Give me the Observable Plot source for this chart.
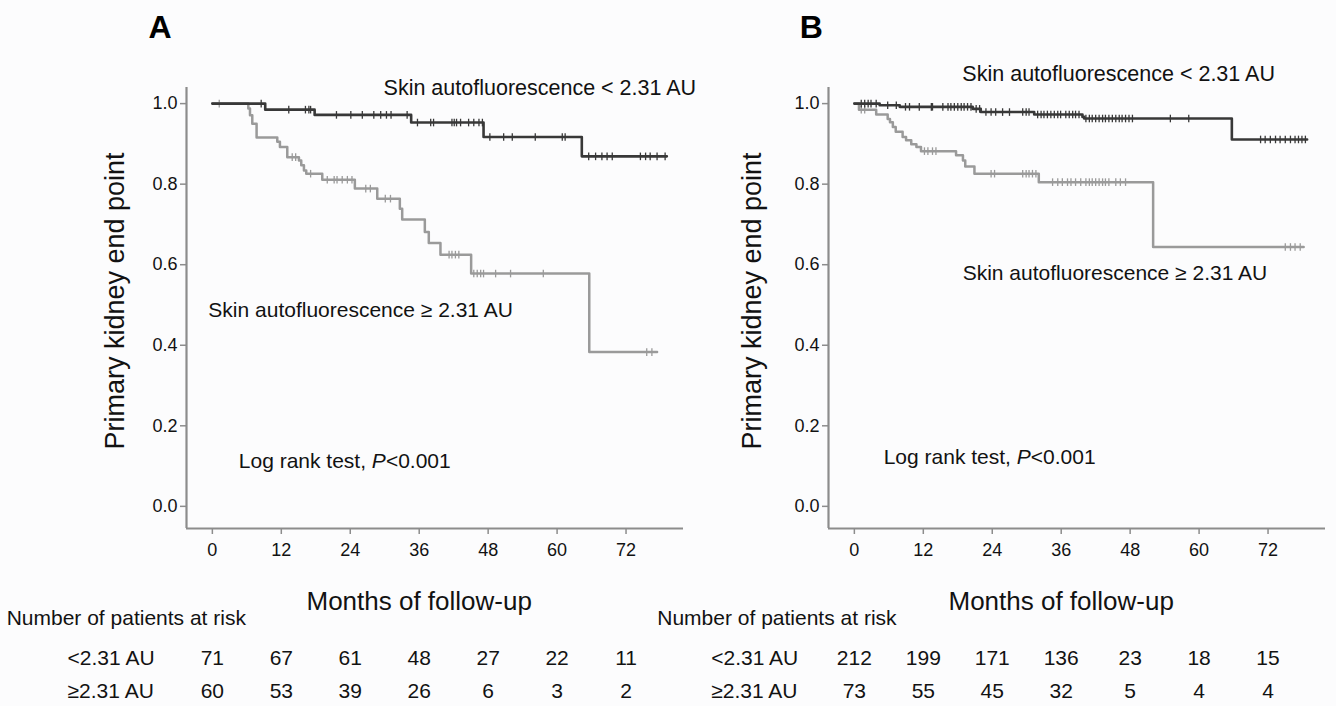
<!DOCTYPE html>
<html><head><meta charset="utf-8">
<script src="https://cdn.jsdelivr.net/npm/d3@7"></script>
<script src="https://cdn.jsdelivr.net/npm/@observablehq/plot@0.6"></script>
<style>
html,body{margin:0;padding:0;background:#fcfcfd;}
#wrap{position:relative;width:1336px;height:706px;overflow:hidden;background:#fcfcfd;}
#wrap svg{position:absolute;top:0;}
</style></head><body><div id="wrap"></div>
<script>
// ---------- data ----------
const xTicks = [0, 12, 24, 36, 48, 60, 72];
const yTicks = [0, 0.2, 0.4, 0.6, 0.8, 1.0];
const riskTimes = [0, 12, 24, 36, 48, 60, 72];
const groupLabels = ["<2.31 AU", "≥2.31 AU"];
const curveLabels = ["Skin autofluorescence < 2.31 AU", "Skin autofluorescence ≥ 2.31 AU"];
const logRank = "Log rank test, P<0.001";
const yTitle = "Primary kidney end point";
const xTitle = "Months of follow-up";
const riskTitle = "Number of patients at risk";

// Panel A
const aRiskLow = [71, 67, 61, 48, 27, 22, 11];
const aRiskHigh = [60, 53, 39, 26, 6, 3, 2];
const aLowTimes = [9.2, 17.8, 34.6, 47.2, 64.3];
const aLowSurv = [0.985, 0.972, 0.953, 0.917, 0.869];
const aLowEnd = 79.1;
const aLowCens = [8.5, 13.3, 16.2, 16.8, 17.1, 21.6, 24.1, 26.1, 28.1, 29.3, 30.3, 31.1, 33.9, 35.7, 38.0, 38.5, 41.7, 42.1, 42.5, 43.2, 44.6, 45.5, 46.4, 47.0, 48.3, 50.7, 52.2, 56.2, 60.9, 61.4, 65.5, 66.7, 67.8, 68.7, 69.6, 74.5, 75.4, 76.2, 77.4, 78.8];
const aHighTimes = [6.26, 6.55, 6.95, 7.7, 11.3, 11.76, 13.04, 15.07, 15.47, 15.94, 16.34, 19.13, 24.8, 28.7, 32.63, 33.04, 36.98, 37.67, 39.7, 45.04, 65.6];
const aHighSurv = [0.988, 0.971, 0.950, 0.916, 0.905, 0.892, 0.867, 0.859, 0.847, 0.834, 0.826, 0.811, 0.789, 0.764, 0.739, 0.712, 0.681, 0.654, 0.625, 0.578, 0.383];
const aHighEnd = 77.4;
const aHighCens = [1.2, 13.9, 14.5, 17.1, 20.0, 21.2, 21.7, 22.6, 23.5, 24.3, 26.7, 27.5, 30.1, 31.0, 41.2, 41.7, 42.3, 42.9, 45.5, 46.1, 46.7, 47.2, 49.3, 51.9, 57.6, 75.6, 76.5];

// Panel B
const bRiskLow = [212, 199, 171, 136, 23, 18, 15];
const bRiskHigh = [73, 55, 45, 32, 5, 4, 4];
const bLowTimes = [4.4, 7.9, 20.6, 22.0, 31.3, 39.7, 40.0, 65.7];
const bLowSurv = [0.996, 0.992, 0.987, 0.979, 0.973, 0.967, 0.963, 0.911];
const bLowEnd = 78.8;
const bLowCens = [1.2, 1.8, 2.4, 2.9, 3.8, 5.8, 7.3, 8.9, 9.6, 11.3, 13.4, 13.6, 15.4, 16.3, 16.8, 17.4, 18.0, 18.6, 19.1, 19.7, 20.3, 21.2, 21.8, 22.9, 23.8, 24.6, 25.8, 27.0, 29.3, 29.9, 30.4, 31.9, 32.5, 33.0, 33.6, 34.2, 34.8, 35.4, 35.9, 36.8, 37.4, 38.0, 38.5, 39.1, 40.3, 40.9, 41.4, 42.0, 42.6, 43.2, 43.7, 44.3, 44.9, 45.5, 46.1, 46.6, 47.2, 47.8, 48.4, 55.0, 58.2, 70.7, 71.5, 72.4, 73.3, 74.1, 75.0, 75.9, 76.7, 77.3, 77.9, 78.5];
const bHighTimes = [0.8, 3.8, 5.8, 6.2, 6.7, 7.2, 8.4, 9.0, 9.9, 10.8, 11.6, 17.7, 18.9, 19.3, 20.9, 32.1, 52.0];
const bHighSurv = [0.985, 0.973, 0.962, 0.954, 0.942, 0.930, 0.917, 0.909, 0.899, 0.892, 0.882, 0.872, 0.859, 0.844, 0.826, 0.805, 0.644];
const bHighEnd = 78.2;
const bHighCens = [1.2, 1.8, 12.2, 12.8, 13.6, 14.2, 23.8, 24.4, 29.3, 29.9, 30.4, 31.0, 31.6, 34.5, 35.4, 36.2, 37.1, 37.7, 38.5, 39.4, 40.3, 40.9, 41.4, 42.0, 42.6, 43.2, 43.7, 44.3, 45.5, 46.3, 47.2, 75.0, 75.9, 76.7, 77.6];

// ---------- styling ----------
const FONT = '"Liberation Sans", Arial, Helvetica, sans-serif';
const DARK = "#383838", GRAY = "#9a9a9a", AXIS = "#8c8c8c", INK = "#121212";
const xDomain = [-4.5, 82], yDomain = [-0.055, 1.04];

function kmPath(times, surv, end) {
  const pts = [{t: 0, s: 1}];
  times.forEach((t, i) => pts.push({t, s: surv[i]}));
  pts.push({t: end, s: surv[surv.length - 1]});
  return pts;
}
function survAt(times, surv, t) {
  let s = 1;
  times.forEach((tt, i) => { if (tt <= t) s = surv[i]; });
  return s;
}
const censorSymbol = {
  draw(context, size) {
    const r = Math.sqrt(size / Math.PI);
    context.moveTo(0, -r);
    context.lineTo(0, r);
  }
};

function panel(cfg) {
  const low = kmPath(cfg.lowTimes, cfg.lowSurv, cfg.lowEnd);
  const high = kmPath(cfg.highTimes, cfg.highSurv, cfg.highEnd);
  const lowC = cfg.lowCens.map(t => ({t, s: survAt(cfg.lowTimes, cfg.lowSurv, t)}));
  const highC = cfg.highCens.map(t => ({t, s: survAt(cfg.highTimes, cfg.highSurv, t)}));
  const txt = {fill: INK, fontSize: 21, lineAnchor: "bottom"};
  const marks = [
    Plot.ruleX([xDomain[0]], {stroke: AXIS, strokeWidth: 2.2}),
    Plot.ruleY([yDomain[0]], {stroke: AXIS, strokeWidth: 2.2}),
    Plot.axisY({ticks: yTicks, tickFormat: d3.format(".1f"), tickSize: 6, tickPadding: 3, stroke: AXIS, strokeWidth: 1.5, fill: INK, fontSize: 18, label: null}),
    Plot.axisX({ticks: xTicks, tickFormat: d => String(d), tickSize: 6, tickPadding: 9, stroke: AXIS, strokeWidth: 1.5, fill: INK, fontSize: 18, label: null}),
    Plot.line(high, {x: "t", y: "s", curve: "step-after", stroke: GRAY, strokeWidth: 2.5}),
    Plot.dot(highC, {x: "t", y: "s", symbol: censorSymbol, r: 3.8, stroke: GRAY, fill: "none", strokeWidth: 1.3}),
    Plot.line(low, {x: "t", y: "s", curve: "step-after", stroke: DARK, strokeWidth: 2.6}),
    Plot.dot(lowC, {x: "t", y: "s", symbol: censorSymbol, r: 3.8, stroke: DARK, fill: "none", strokeWidth: 1.3}),
    // panel letter
    Plot.text([cfg.letter], {x: cfg.letterX, frameAnchor: "top", dy: -50, text: d => d, textAnchor: "start", lineAnchor: "bottom", fontSize: 32, fontWeight: "bold", fill: "#000"}),
    // curve annotations
    Plot.text([curveLabels[0]], {x: cfg.lowLab[0], y: cfg.lowLab[1], text: d => d, textAnchor: "start", ...txt, fontSize: 21.5}),
    Plot.text([curveLabels[1]], {x: cfg.highLab[0], y: cfg.highLab[1], text: d => d, textAnchor: "start", ...txt}),
    Plot.text([logRank], {x: cfg.logLab[0], y: cfg.logLab[1], text: d => d, textAnchor: "start", ...txt}),
    // y title
    Plot.text([yTitle], {frameAnchor: "left", dx: cfg.yTitleDx, dy: -7, rotate: -90, text: d => d, textAnchor: "middle", lineAnchor: "bottom", fontSize: 27, fill: INK}),
    // x title and risk table
    Plot.text([xTitle], {x: 36, frameAnchor: "bottom", dy: 81, text: d => d, textAnchor: "middle", lineAnchor: "bottom", fontSize: 26, fill: INK}),
    Plot.text([riskTitle], {x: cfg.riskTitleX, frameAnchor: "bottom", dy: 96, text: d => d, textAnchor: "start", ...txt}),
    Plot.text([groupLabels[0]], {x: cfg.groupX, frameAnchor: "bottom", dy: 136, text: d => d, textAnchor: "start", ...txt}),
    Plot.text([groupLabels[1]], {x: cfg.groupX, frameAnchor: "bottom", dy: 169, text: d => d, textAnchor: "start", ...txt}),
    Plot.text(cfg.riskLow, {x: riskTimes, frameAnchor: "bottom", dy: 136, text: d => String(d), textAnchor: "middle", ...txt}),
    Plot.text(cfg.riskHigh, {x: riskTimes, frameAnchor: "bottom", dy: 169, text: d => String(d), textAnchor: "middle", ...txt})
  ];
  const svg = Plot.plot({
    width: cfg.width, height: 706,
    marginLeft: cfg.marginLeft, marginRight: cfg.marginRight, marginTop: 87, marginBottom: 178,
    x: {domain: xDomain}, y: {domain: yDomain},
    style: {fontFamily: FONT, background: "transparent", overflow: "visible"},
    marks
  });
  // italic P in the log-rank note
  d3.select(svg).selectAll("text").filter(function () { return this.textContent === logRank; }).each(function () {
    const t = d3.select(this);
    t.text(null);
    t.append("tspan").text("Log rank test, ");
    t.append("tspan").attr("font-style", "italic").text("P");
    t.append("tspan").text("<0.001");
  });
  svg.style.left = cfg.left + "px";
  return svg;
}

const wrap = document.getElementById("wrap");
wrap.appendChild(panel({
  letter: "A", left: 0, width: 700, marginLeft: 186, marginRight: 17,
  letterX: -11.1,
  lowTimes: aLowTimes, lowSurv: aLowSurv, lowEnd: aLowEnd, lowCens: aLowCens,
  highTimes: aHighTimes, highSurv: aHighSurv, highEnd: aHighEnd, highCens: aHighCens,
  riskLow: aRiskLow, riskHigh: aRiskHigh,
  lowLab: [29.8, 1.021], highLab: [-0.7, 0.469], logLab: [4.6, 0.094],
  yTitleDx: -63, riskTitleX: -35.8, groupX: -25.2
}));
wrap.appendChild(panel({
  letter: "B", left: 700, width: 636, marginLeft: 128, marginRight: 11,
  letterX: -9.5,
  lowTimes: bLowTimes, lowSurv: bLowSurv, lowEnd: bLowEnd, lowCens: bLowCens,
  highTimes: bHighTimes, highSurv: bHighSurv, highEnd: bHighEnd, highCens: bHighCens,
  riskLow: bRiskLow, riskHigh: bRiskHigh,
  lowLab: [18.8, 1.055], highLab: [18.85, 0.563], logLab: [5.1, 0.104],
  yTitleDx: -68, riskTitleX: -34.3, groupX: -24.9
}));
</script></body></html>
